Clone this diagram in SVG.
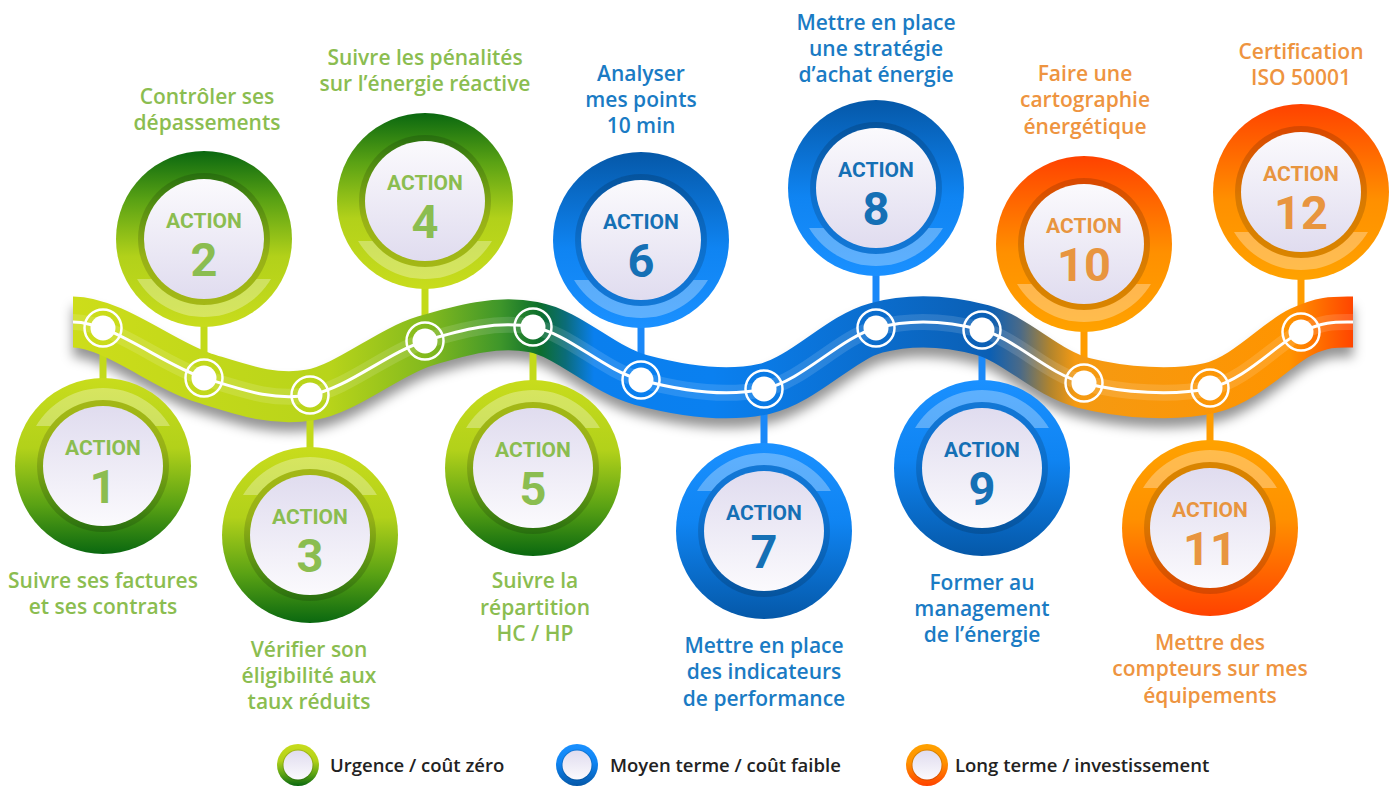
<svg xmlns="http://www.w3.org/2000/svg" width="1399" height="787" viewBox="0 0 1399 787">
<defs>
<style>
.lbl{font-family:"Open Sans","Noto Sans",sans-serif;font-weight:600;font-size:21px;text-anchor:middle}
.g{fill:#8bbd50}
.b{fill:#1a7bc4}
.o{fill:#ee9440}
.ab{fill:#1570b5}
.ao{fill:#e8953f}
.act{font-family:Roboto,"Open Sans",sans-serif;font-weight:700;font-size:21px;text-anchor:middle}
.num{font-family:Roboto,"Open Sans",sans-serif;font-weight:700;font-size:47px;text-anchor:middle}
.stem{stroke-width:7;fill:none}
.sg{stroke:#c3da1a}
.sb{stroke:#1a88f8}
.so{stroke:#ff9c00}
.leg{font-family:"Open Sans","Noto Sans",sans-serif;font-weight:600;font-size:18.5px;fill:#222}
.dot{fill:#fff}
.ring{fill:none;stroke:#fff;stroke-width:2.5}
.dark{fill:#000;fill-opacity:0.15}
</style>
<linearGradient id="gDn" x1="0" y1="0" x2="0" y2="1"><stop offset="0" stop-color="#c8dc1c"/><stop offset="0.4" stop-color="#b2d11a"/><stop offset="0.72" stop-color="#5aa214"/><stop offset="1" stop-color="#0a6810"/></linearGradient>
<linearGradient id="gUp" x1="0" y1="1" x2="0" y2="0"><stop offset="0" stop-color="#c8dc1c"/><stop offset="0.4" stop-color="#b2d11a"/><stop offset="0.72" stop-color="#5aa214"/><stop offset="1" stop-color="#0a6810"/></linearGradient>
<linearGradient id="bDn" x1="0" y1="0" x2="0" y2="1"><stop offset="0" stop-color="#1a90ff"/><stop offset="0.45" stop-color="#0f84f2"/><stop offset="1" stop-color="#0558a8"/></linearGradient>
<linearGradient id="bUp" x1="0" y1="1" x2="0" y2="0"><stop offset="0" stop-color="#1a90ff"/><stop offset="0.45" stop-color="#0f84f2"/><stop offset="1" stop-color="#0558a8"/></linearGradient>
<linearGradient id="oDn" x1="0" y1="0" x2="0" y2="1"><stop offset="0" stop-color="#ffa200"/><stop offset="0.45" stop-color="#ff9000"/><stop offset="1" stop-color="#ff4200"/></linearGradient>
<linearGradient id="oUp" x1="0" y1="1" x2="0" y2="0"><stop offset="0" stop-color="#ffa200"/><stop offset="0.45" stop-color="#ff9000"/><stop offset="1" stop-color="#ff4200"/></linearGradient>
<linearGradient id="dDn" x1="0" y1="0" x2="0" y2="1"><stop offset="0" stop-color="#e0dcef"/><stop offset="1" stop-color="#fbfafd"/></linearGradient>
<linearGradient id="dUp" x1="0" y1="1" x2="0" y2="0"><stop offset="0" stop-color="#e0dcef"/><stop offset="1" stop-color="#fbfafd"/></linearGradient>
<linearGradient id="ribG" gradientUnits="userSpaceOnUse" x1="73" y1="0" x2="1353" y2="0">
<stop offset="0" stop-color="#cddd1a"/>
<stop offset="0.2" stop-color="#b8d41a"/>
<stop offset="0.28" stop-color="#80b81e"/>
<stop offset="0.334" stop-color="#3e962a"/>
<stop offset="0.365" stop-color="#0c6e2c"/>
<stop offset="0.385" stop-color="#0b6c7a"/>
<stop offset="0.407" stop-color="#0a7fee"/>
<stop offset="0.5" stop-color="#0a80f0"/>
<stop offset="0.716" stop-color="#0b5fb4"/>
<stop offset="0.74" stop-color="#4a6a88"/>
<stop offset="0.763" stop-color="#b0842e"/>
<stop offset="0.783" stop-color="#f59a12"/>
<stop offset="0.95" stop-color="#ff9400"/>
<stop offset="1" stop-color="#ff4500"/>
</linearGradient>
<filter id="shadow" x="-5%" y="-60%" width="110%" height="220%"><feGaussianBlur stdDeviation="6"/></filter>
<path id="band" d="M-66.96,40 A78,78 0 0 0 66.96,40 L52.5,40 A66,66 0 0 1 -52.5,40 Z" fill="#fff" fill-opacity="0.3"/>
<path id="rib" d="M73,322 C112,322 164.5,365.8 204,378 C243.5,390.2 273.2,401.2 310,395 C346.8,388.8 387.8,352.3 425,341 C462.2,329.7 497,320.5 533,327 C569,333.5 602.5,369.7 641,380 C679.5,390.3 724.8,397.7 764,389 C803.2,380.3 839.7,337.8 876,328 C912.3,318.2 947.3,320.8 982,330 C1016.7,339.2 1046,373.3 1084,383 C1122,392.7 1173.8,396.5 1210,388 C1246.2,379.5 1277.2,343 1301,332 C1324.8,321 1335,322 1353,322"/>
</defs>
<rect width="1399" height="787" fill="#fff"/>

<g id="ribbon-shadow">
<use href="#rib" fill="none" stroke="#000" stroke-opacity="0.42" stroke-width="50" transform="translate(0,10)" filter="url(#shadow)"/>
</g>

<g id="connectors">
<line class="stem sg" x1="103" y1="328" x2="103" y2="382"/>
<line class="stem sg" x1="204" y1="322" x2="204" y2="378"/>
<line class="stem sg" x1="310" y1="395" x2="310" y2="452"/>
<line class="stem sg" x1="425" y1="285" x2="425" y2="341"/>
<line class="stem sg" x1="533" y1="327" x2="533" y2="385"/>
<line class="stem sb" x1="641" y1="324" x2="641" y2="380"/>
<line class="stem sb" x1="764" y1="389" x2="764" y2="448"/>
<line class="stem sb" x1="876" y1="272" x2="876" y2="328"/>
<line class="stem sb" x1="982" y1="330" x2="982" y2="385"/>
<line class="stem so" x1="1084" y1="328" x2="1084" y2="383"/>
<line class="stem so" x1="1210" y1="388" x2="1210" y2="445"/>
<line class="stem so" x1="1301" y1="276" x2="1301" y2="332"/>
</g>

<g id="ribbon">
<use href="#rib" fill="none" stroke="url(#ribG)" stroke-width="51"/>
<use href="#rib" fill="none" stroke="#fff" stroke-opacity="0.13" stroke-width="16"/>
<use href="#rib" fill="none" stroke="#fff" stroke-width="3"/>
</g>

<g id="nodes">
<g id="n1"><circle class="dot" cx="103" cy="328" r="12.5"/><circle class="ring" cx="103" cy="328" r="18.5"/></g>
<g id="n2"><circle class="dot" cx="204" cy="378" r="12.5"/><circle class="ring" cx="204" cy="378" r="18.5"/></g>
<g id="n3"><circle class="dot" cx="310" cy="395" r="12.5"/><circle class="ring" cx="310" cy="395" r="18.5"/></g>
<g id="n4"><circle class="dot" cx="425" cy="341" r="12.5"/><circle class="ring" cx="425" cy="341" r="18.5"/></g>
<g id="n5"><circle class="dot" cx="533" cy="327" r="12.5"/><circle class="ring" cx="533" cy="327" r="18.5"/></g>
<g id="n6"><circle class="dot" cx="641" cy="380" r="12.5"/><circle class="ring" cx="641" cy="380" r="18.5"/></g>
<g id="n7"><circle class="dot" cx="764" cy="389" r="12.5"/><circle class="ring" cx="764" cy="389" r="18.5"/></g>
<g id="n8"><circle class="dot" cx="876" cy="328" r="12.5"/><circle class="ring" cx="876" cy="328" r="18.5"/></g>
<g id="n9"><circle class="dot" cx="982" cy="330" r="12.5"/><circle class="ring" cx="982" cy="330" r="18.5"/></g>
<g id="n10"><circle class="dot" cx="1084" cy="383" r="12.5"/><circle class="ring" cx="1084" cy="383" r="18.5"/></g>
<g id="n11"><circle class="dot" cx="1210" cy="388" r="12.5"/><circle class="ring" cx="1210" cy="388" r="18.5"/></g>
<g id="n12"><circle class="dot" cx="1301" cy="332" r="12.5"/><circle class="ring" cx="1301" cy="332" r="18.5"/></g>
</g>

<g id="action-1" transform="translate(103,466)">
<circle r="88" fill="url(#gDn)"/><use href="#band" transform="scale(1,-1)"/><circle class="dark" r="66"/><circle r="60" fill="url(#dDn)"/>
<text class="act g" y="-11">ACTION</text><text class="num g" y="37">1</text>
</g>
<g id="action-2" transform="translate(204,239)">
<circle r="88" fill="url(#gUp)"/><use href="#band"/><circle class="dark" r="66"/><circle r="60" fill="url(#dUp)"/>
<text class="act g" y="-11">ACTION</text><text class="num g" y="37">2</text>
</g>
<g id="action-3" transform="translate(310,535)">
<circle r="88" fill="url(#gDn)"/><use href="#band" transform="scale(1,-1)"/><circle class="dark" r="66"/><circle r="60" fill="url(#dDn)"/>
<text class="act g" y="-11">ACTION</text><text class="num g" y="37">3</text>
</g>
<g id="action-4" transform="translate(425,201)">
<circle r="88" fill="url(#gUp)"/><use href="#band"/><circle class="dark" r="66"/><circle r="60" fill="url(#dUp)"/>
<text class="act g" y="-11">ACTION</text><text class="num g" y="37">4</text>
</g>
<g id="action-5" transform="translate(533,468)">
<circle r="88" fill="url(#gDn)"/><use href="#band" transform="scale(1,-1)"/><circle class="dark" r="66"/><circle r="60" fill="url(#dDn)"/>
<text class="act g" y="-11">ACTION</text><text class="num g" y="37">5</text>
</g>
<g id="action-6" transform="translate(641,240)">
<circle r="88" fill="url(#bUp)"/><use href="#band"/><circle class="dark" r="66"/><circle r="60" fill="url(#dUp)"/>
<text class="act ab" y="-11">ACTION</text><text class="num ab" y="37">6</text>
</g>
<g id="action-7" transform="translate(764,531)">
<circle r="88" fill="url(#bDn)"/><use href="#band" transform="scale(1,-1)"/><circle class="dark" r="66"/><circle r="60" fill="url(#dDn)"/>
<text class="act ab" y="-11">ACTION</text><text class="num ab" y="37">7</text>
</g>
<g id="action-8" transform="translate(876,188)">
<circle r="88" fill="url(#bUp)"/><use href="#band"/><circle class="dark" r="66"/><circle r="60" fill="url(#dUp)"/>
<text class="act ab" y="-11">ACTION</text><text class="num ab" y="37">8</text>
</g>
<g id="action-9" transform="translate(982,468)">
<circle r="88" fill="url(#bDn)"/><use href="#band" transform="scale(1,-1)"/><circle class="dark" r="66"/><circle r="60" fill="url(#dDn)"/>
<text class="act ab" y="-11">ACTION</text><text class="num ab" y="37">9</text>
</g>
<g id="action-10" transform="translate(1084,244)">
<circle r="88" fill="url(#oUp)"/><use href="#band"/><circle class="dark" r="66"/><circle r="60" fill="url(#dUp)"/>
<text class="act ao" y="-11">ACTION</text><text class="num ao" y="37">10</text>
</g>
<g id="action-11" transform="translate(1210,528)">
<circle r="88" fill="url(#oDn)"/><use href="#band" transform="scale(1,-1)"/><circle class="dark" r="66"/><circle r="60" fill="url(#dDn)"/>
<text class="act ao" y="-11">ACTION</text><text class="num ao" y="37">11</text>
</g>
<g id="action-12" transform="translate(1301,192)">
<circle r="88" fill="url(#oUp)"/><use href="#band"/><circle class="dark" r="66"/><circle r="60" fill="url(#dUp)"/>
<text class="act ao" y="-11">ACTION</text><text class="num ao" y="37">12</text>
</g>

<g id="labels">
<text class="lbl g"><tspan x="103" y="588">Suivre ses factures</tspan><tspan x="103" y="614">et ses contrats</tspan></text>
<text class="lbl g"><tspan x="207" y="104">Contrôler ses</tspan><tspan x="207" y="130">dépassements</tspan></text>
<text class="lbl g"><tspan x="309" y="657">Vérifier son</tspan><tspan x="309" y="683">éligibilité aux</tspan><tspan x="309" y="709">taux réduits</tspan></text>
<text class="lbl g"><tspan x="425" y="65">Suivre les pénalités</tspan><tspan x="425" y="91">sur l’énergie réactive</tspan></text>
<text class="lbl g"><tspan x="535" y="588">Suivre la</tspan><tspan x="535" y="615">répartition</tspan><tspan x="535" y="641">HC / HP</tspan></text>
<text class="lbl b"><tspan x="641" y="81">Analyser</tspan><tspan x="641" y="107">mes points</tspan><tspan x="641" y="133">10 min</tspan></text>
<text class="lbl b"><tspan x="764" y="653">Mettre en place</tspan><tspan x="764" y="679">des indicateurs</tspan><tspan x="764" y="706">de performance</tspan></text>
<text class="lbl b"><tspan x="876" y="30">Mettre en place</tspan><tspan x="876" y="56">une stratégie</tspan><tspan x="876" y="82">d’achat énergie</tspan></text>
<text class="lbl b"><tspan x="982" y="590">Former au</tspan><tspan x="982" y="616">management</tspan><tspan x="982" y="642">de l’énergie</tspan></text>
<text class="lbl o"><tspan x="1085" y="81">Faire une</tspan><tspan x="1085" y="107">cartographie</tspan><tspan x="1085" y="134">énergétique</tspan></text>
<text class="lbl o"><tspan x="1210" y="650">Mettre des</tspan><tspan x="1210" y="676">compteurs sur mes</tspan><tspan x="1210" y="703">équipements</tspan></text>
<text class="lbl o"><tspan x="1301" y="59">Certification</tspan><tspan x="1301" y="85">ISO 50001</tspan></text>
</g>

<g id="legend">
<g id="leg-green"><circle cx="298" cy="765" r="21" fill="url(#gDn)"/><circle cx="298" cy="765" r="15.5" class="dark"/><circle cx="298" cy="765" r="14.5" fill="url(#dDn)"/><text class="leg" x="330" y="772">Urgence / coût zéro</text></g>
<g id="leg-blue"><circle cx="577" cy="765" r="21" fill="url(#bDn)"/><circle cx="577" cy="765" r="15.5" class="dark"/><circle cx="577" cy="765" r="14.5" fill="url(#dDn)"/><text class="leg" x="610" y="772">Moyen terme / coût faible</text></g>
<g id="leg-orange"><circle cx="927" cy="765" r="21" fill="url(#oDn)"/><circle cx="927" cy="765" r="15.5" class="dark"/><circle cx="927" cy="765" r="14.5" fill="url(#dDn)"/><text class="leg" x="955" y="772">Long terme / investissement</text></g>
</g>
</svg>
